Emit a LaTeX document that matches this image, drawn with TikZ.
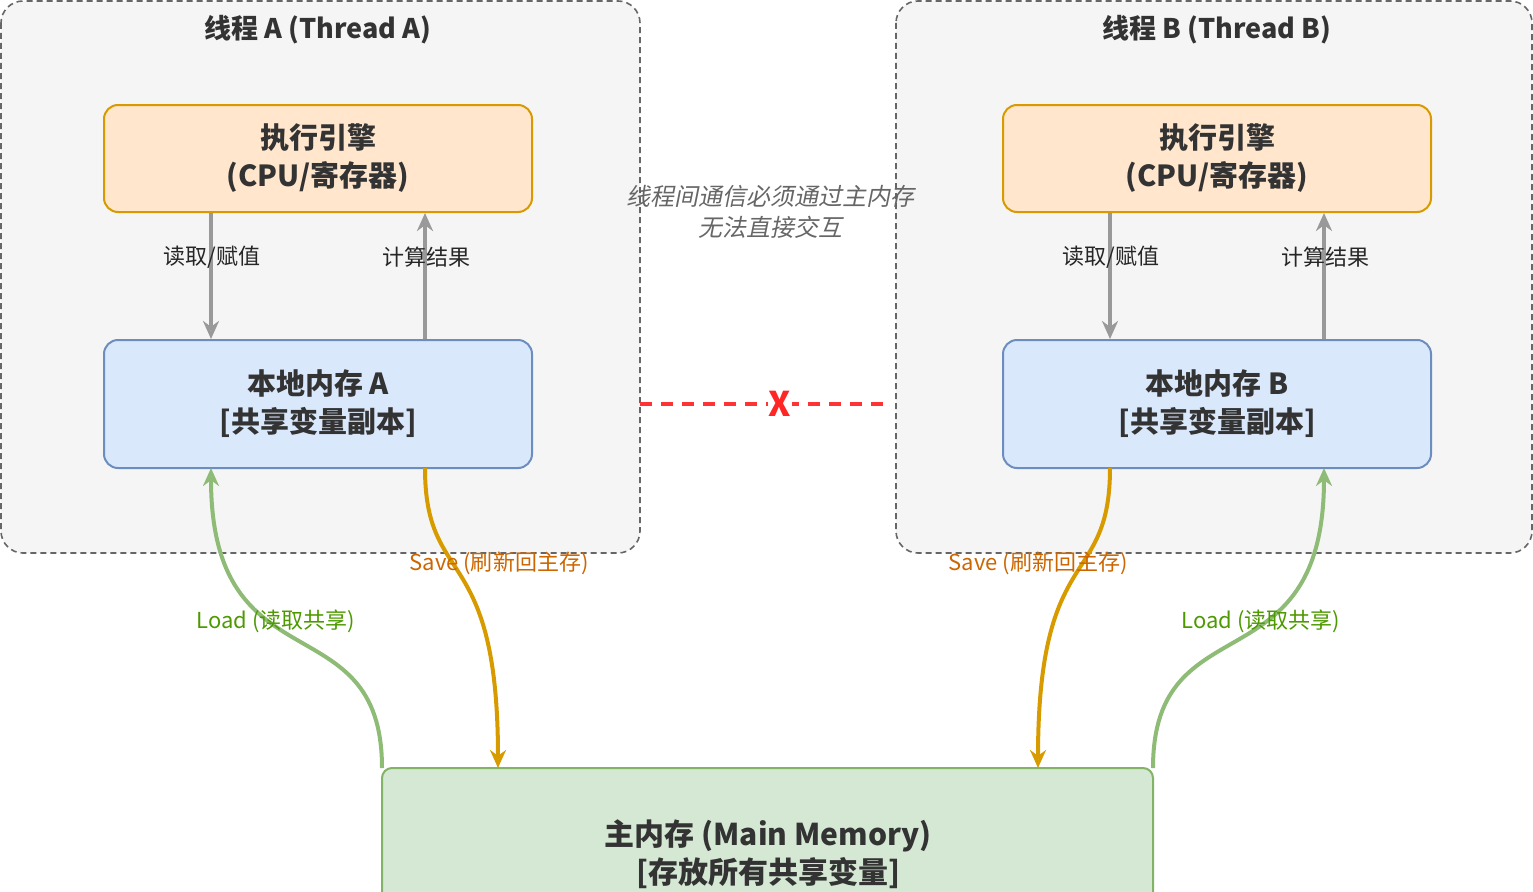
\documentclass[tikz,border=0pt]{standalone}
\usepackage{fontspec}
\setmainfont{Noto Sans CJK SC}
\usetikzlibrary{arrows.meta}
\definecolor{cont}{HTML}{F5F5F5}
\definecolor{contd}{HTML}{666666}
\definecolor{orf}{HTML}{FFE6CC}\definecolor{ord}{HTML}{D79B00}
\definecolor{blf}{HTML}{DAE8FC}\definecolor{bld}{HTML}{6C8EBF}
\definecolor{grf}{HTML}{D5E8D4}\definecolor{grd}{HTML}{82B366}
\definecolor{savec}{HTML}{CC6600}\definecolor{loadc}{HTML}{4D9900}
\begin{document}
\begin{tikzpicture}[x=1pt,y=-1pt,
 cont/.style={draw=contd,fill=cont,dash pattern=on 6pt off 4pt,rounded corners=22,line width=1.6pt},
 box/.style={rounded corners=14,line width=2pt,minimum width=428pt,align=center,font=\fontsize{29}{38}\selectfont\bfseries,text=black!80},
 garr/.style={draw=black!40,line width=4pt,-{Stealth[length=18pt,width=16pt,open]}},
 lab/.style={font=\fontsize{22}{26}\selectfont,text=black!85},
 sav/.style={draw=ord,line width=4pt,-{Stealth[length=18pt,width=16pt,open]}},
 lod/.style={draw=grd!90,line width=4pt,-{Stealth[length=18pt,width=16pt,open]}}]
\useasboundingbox (0,0) rectangle (1533,891);
\draw[cont] (1,1) rectangle (640,553);
\draw[cont] (896,1) rectangle (1532,553);
\node[font=\fontsize{27}{30}\selectfont\bfseries,text=black!80] (ta) at (318,30) {线程 A (Thread A)};
\node[font=\fontsize{27}{30}\selectfont\bfseries,text=black!80] (tb) at (1217,30) {线程 B (Thread B)};
\node[box,draw=ord,fill=orf,minimum height=107pt] (ea) at (318,158.5) {执行引擎\\(CPU/寄存器)};
\node[box,draw=ord,fill=orf,minimum height=107pt] (eb) at (1217,158.5) {执行引擎\\(CPU/寄存器)};
\node[box,draw=bld,fill=blf,minimum height=128pt] (la) at (318,404) {本地内存 A\\{[}共享变量副本{]}};
\node[box,draw=bld,fill=blf,minimum height=128pt] (lb) at (1217,404) {本地内存 B\\{[}共享变量副本{]}};
\fill[grf] (382,900) -- (382,778) arc[start angle=180,end angle=270,radius=10] -- (1143,768) arc[start angle=270,end angle=360,radius=10] -- (1153,900) -- cycle;
\draw[grd,line width=2pt] (382,900) -- (382,778) arc[start angle=180,end angle=270,radius=10] -- (1143,768) arc[start angle=270,end angle=360,radius=10] -- (1153,900);
\node[font=\fontsize{30}{38}\selectfont\bfseries,text=black!80,align=center] (mm) at (768,854) {主内存 (Main Memory)\\{[}存放所有共享变量{]}};
\draw[garr] (ea.south -| 211,0) -- (la.north -| 211,0);
\draw[garr] (la.north -| 425,0) -- (ea.south -| 425,0);
\node[lab] (r1) at (212,257) {读取/赋值};
\node[lab] (c1) at (426,257) {计算结果};
\draw[garr] (eb.south -| 1110,0) -- (lb.north -| 1110,0);
\draw[garr] (lb.north -| 1324,0) -- (eb.south -| 1324,0);
\node[lab] (r2) at (1111,257) {读取/赋值};
\node[lab] (c2) at (1325,257) {计算结果};
\node[font=\fontsize{24}{31}\selectfont,text=black!60,align=center] (note) at (770,212) {\addfontfeature{FakeSlant=0.2}线程间通信必须通过主内存\\\addfontfeature{FakeSlant=0.2}无法直接交互};
\coordinate (da) at (640,404);\coordinate (db) at (884,404);
\draw[red!80,line width=3.5pt,dash pattern=on 12pt off 9pt] (da) -- (db);
\node[fill=white,inner sep=1pt,text=red!85,font=\fontsize{34}{34}\selectfont\bfseries] (x) at (780,404) {X};
\draw[lod] (382,768) .. controls (382,600) and (211,690) .. (211,468);
\draw[sav] (425,468) .. controls (425,590) and (498,540) .. (498,768);
\draw[sav] (1110,468) .. controls (1110,590) and (1038,540) .. (1038,768);
\draw[lod] (1153,768) .. controls (1153,600) and (1324,690) .. (1324,468);
\node[lab,text=savec] (sa) at (499,563) {Save (刷新回主存)};
\node[lab,text=loadc] (lda) at (276,621) {Load (读取共享)};
\node[lab,text=savec] (sb) at (1038,563) {Save (刷新回主存)};
\node[lab,text=loadc] (ldb) at (1261,621) {Load (读取共享)};
\end{tikzpicture}
\end{document}
